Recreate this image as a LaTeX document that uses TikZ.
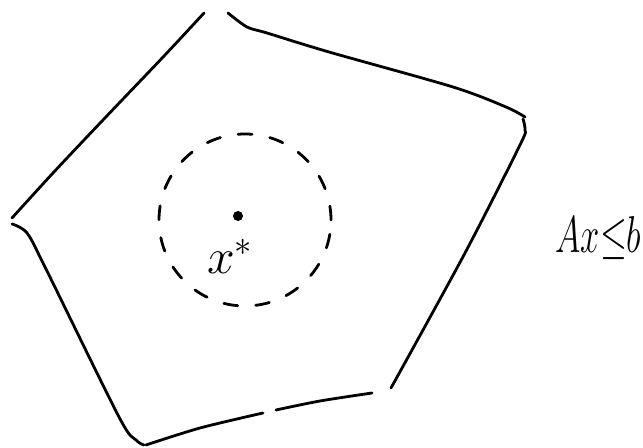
\documentclass[tikz,border=0pt]{standalone}
\usepackage{amsmath}
\usepackage{amssymb}
\usepackage{graphicx}
\begin{document}
\begin{tikzpicture}[x=0.5pt,y=-0.5pt,line width=1.4pt,line cap=round]
\useasboundingbox (0,0) rectangle (643,448);
% sides of the polytope
\draw plot[smooth] coordinates {(204,13) (165,55) (103,120) (53,173) (12,218)};
\draw plot[smooth] coordinates {(228,13) (247,27) (267,33) (329,52) (453,87) (506,107) (525,117)};
\draw plot[smooth] coordinates {(523,119) (525,130) (520,145) (465,253) (391,388)};
\draw plot[smooth] coordinates {(12,224) (27,233) (45,267) (119,417) (136,440) (144,445)};
\draw plot[smooth] coordinates {(146,445) (200,428) (263,413)};
\draw plot[smooth] coordinates {(276,410) (320,401) (372,393)};
% ball around the centre
\draw[dash pattern=on 7pt off 9pt] (245,220) circle [radius=43pt];
\fill (238,216) circle (2.5pt);
\node[font=\fontsize{26}{30}\selectfont] (xstar) at (230,256) {$x^{*}$};
\node[font=\fontsize{17}{20}\selectfont,anchor=west,inner sep=0pt] (cons) at (554,238) {\scalebox{1}[1.5]{$Ax{\leq}b$}};
\end{tikzpicture}
\end{document}
